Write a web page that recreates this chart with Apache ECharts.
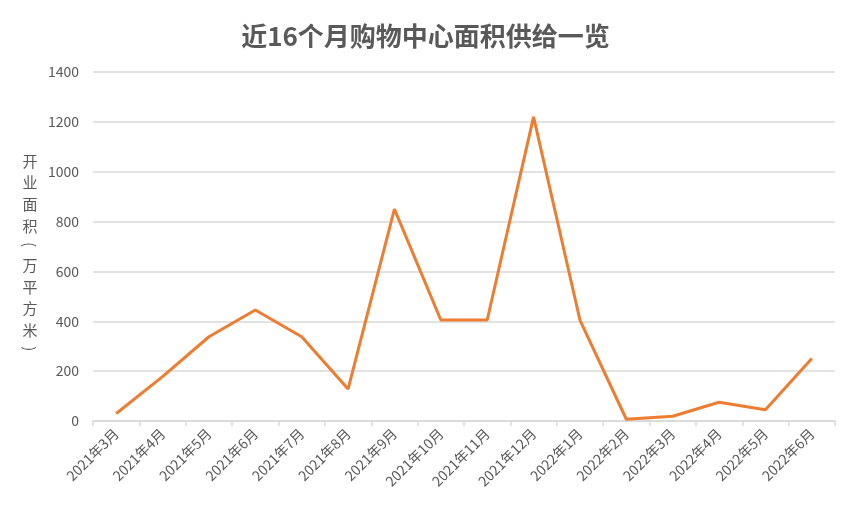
<!DOCTYPE html>
<html>
<head>
<meta charset="utf-8">
<script src="https://cdn.jsdelivr.net/npm/echarts@6/dist/echarts.min.js"></script>
<style>html,body{margin:0;padding:0;background:#fff;}#c{width:851px;height:511px;}</style>
</head>
<body>
<div id="c"></div>
<script>
const titleText = '近16个月购物中心面积供给一览';
const yAxisNameChars = ['开','业','面','积','(','万','平','方','米',')'];
const categories = ['2021年3月','2021年4月','2021年5月','2021年6月','2021年7月','2021年8月','2021年9月','2021年10月','2021年11月','2021年12月','2022年1月','2022年2月','2022年3月','2022年4月','2022年5月','2022年6月'];
const areaValues = [30, 178, 338, 445, 338, 128, 850, 405, 405, 1220, 405, 7, 19, 75, 45, 251];

const chart = echarts.init(document.getElementById('c'));
const fontFamily = '"Noto Sans CJK SC", "Noto Sans", sans-serif';

// vertical y-axis name, one glyph per row; parentheses rotated like vertical forms
const nameElements = [];
let cy = 161;
yAxisNameChars.forEach((ch, i) => {
  const isParen = ch === '(' || ch === ')';
  if (i > 0) {
    const prevParen = yAxisNameChars[i - 1] === '(' || yAxisNameChars[i - 1] === ')';
    cy += (isParen || prevParen) ? 19.5 : 21.7;
  }
  nameElements.push({
    type: 'text',
    x: 30, y: isParen ? cy - 1 : cy,
    rotation: isParen ? -Math.PI / 2 : 0,
    silent: true,
    style: {
      text: ch,
      fill: '#595959',
      font: '15px ' + fontFamily,
      align: 'center', verticalAlign: 'middle',
      textAlign: 'center', textVerticalAlign: 'middle'
    }
  });
});

chart.setOption({
  animation: false,
  backgroundColor: '#ffffff',
  title: {
    text: titleText,
    left: 'center',
    top: 18,
    textStyle: { fontFamily, fontSize: 26, fontWeight: 'bold', color: '#595959' }
  },
  graphic: nameElements,
  grid: { left: 93, right: 16, top: 72, bottom: 90, containLabel: false },
  xAxis: {
    type: 'category',
    data: categories,
    boundaryGap: true,
    axisLine: { lineStyle: { color: '#d9d9d9', width: 1.5 } },
    axisTick: { show: true, length: 5, lineStyle: { color: '#d9d9d9', width: 1.5 } },
    axisLabel: { rotate: 45, interval: 0, color: '#595959', fontSize: 14, fontFamily, margin: 10 }
  },
  yAxis: {
    type: 'value',
    min: 0, max: 1400, interval: 200,
    axisLine: { show: false },
    axisTick: { show: false },
    axisLabel: { color: '#595959', fontSize: 14, fontFamily, margin: 14, formatter: v => String(v) },
    splitLine: { lineStyle: { color: '#d9d9d9', width: 1.5 } }
  },
  series: [{
    type: 'line',
    data: areaValues,
    showSymbol: false,
    symbol: 'none',
    lineStyle: { color: '#ED7D31', width: 3 },
    itemStyle: { color: '#ED7D31' }
  }]
});
</script>
</body>
</html>
